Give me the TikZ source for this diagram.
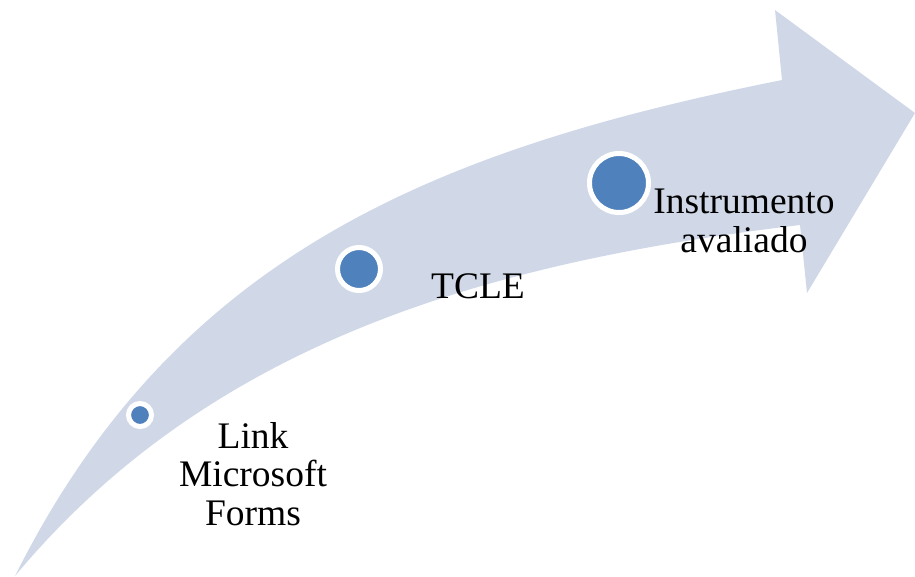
\documentclass[tikz,border=0pt]{standalone}
\usepackage{fontspec}
\setmainfont{Liberation Serif}
\definecolor{bandblue}{HTML}{D0D8E8}
\definecolor{dotblue}{HTML}{4F81BD}

\begin{document}
\begin{tikzpicture}[
      x = 1pt, y = -1pt, % pixel units, y grows downwards
      dot/.style = {circle, fill=dotblue, draw=white, line width=5pt, inner sep=0pt},
      stagetext/.style = {font=\fontsize{37.5}{38.5}\selectfont, align=center, inner sep=0pt}
  ]

\useasboundingbox (0,0) rectangle (915,576);

% the curved arrow
\fill[bandblue] (15,576) .. controls (175,256) and (432,150) .. (782,80)
    -- (775,10) -- (915,113) -- (807,293) -- (800,225)
    .. controls (500,261) and (215,336) .. (15,576) -- cycle;

% stages along the arrow
\node[dot, minimum size=23pt] (dot1) at (140,415) {};
\node[dot, minimum size=43pt] (dot2) at (359,269) {};
\node[dot, minimum size=59pt] (dot3) at (619,183) {};

\node[stagetext] (lbl1) at (253,474) {Link\\Microsoft\\Forms};
\node[stagetext, anchor=base] (lbl2) at (478,298) {TCLE};
\node[stagetext] (lbl3) at (744,221) {Instrumento\\avaliado};

\end{tikzpicture}
\end{document}
